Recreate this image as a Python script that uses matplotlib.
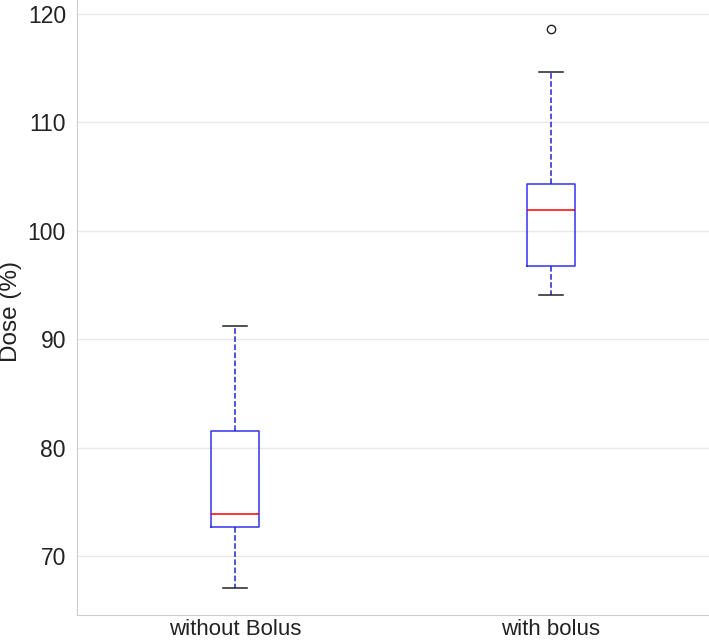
import matplotlib.pyplot as plt

# Значения
groups = ['without Bolus', 'with bolus']
whislo = [67.1, 94.1]
q1 = [72.7, 96.8]
med = [73.9, 101.9]
q3 = [81.5, 104.3]
whishi = [91.2, 114.7]
fliers = [[], [118.65]]

plt.rcParams['font.family'] = ['Liberation Sans', 'DejaVu Sans']

fig = plt.figure(figsize=(7.09, 6.4), dpi=100)
ax = fig.add_axes([0.1086, 0.039, 0.8914, 0.961])

stats = []
for i in range(len(groups)):
    stats.append(dict(label=groups[i], whislo=whislo[i], q1=q1[i], med=med[i],
                      q3=q3[i], whishi=whishi[i], fliers=fliers[i]))

ax.bxp(stats, positions=[1, 2], widths=0.15,
       boxprops=dict(color='#3333ee', linewidth=1.1),
       medianprops=dict(color='red', linewidth=1.1),
       whiskerprops=dict(color='#2222cc', linestyle='--', linewidth=1.1),
       capprops=dict(color='#222222', linewidth=1.1),
       flierprops=dict(marker='o', markerfacecolor='none', markeredgecolor='#222222',
                       markersize=6))

ax.set_xlim(0.5, 2.5)
ax.set_ylim(64.56, 121.3)
ax.set_yticks([70, 80, 90, 100, 110, 120])
ax.grid(axis='y', color='#e8e8e8', linewidth=1)
ax.set_axisbelow(True)
for s in ['top', 'right']:
    ax.spines[s].set_visible(False)
for s in ['left', 'bottom']:
    ax.spines[s].set_color('#cccccc')
ax.tick_params(length=0, labelsize=16.5, colors='#222222', pad=8)
ax.tick_params(axis='x', labelsize=16, pad=3)
ax.set_ylabel('Dose (%)', fontsize=17.5, color='#222222')
ax.yaxis.set_label_coords(-0.087, 0.493)

fig.savefig('out.png', dpi=100)
